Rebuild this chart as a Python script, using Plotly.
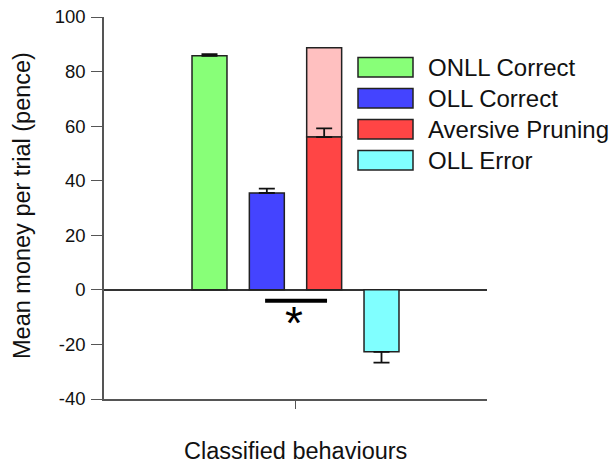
import plotly.graph_objects as go

categories = ["ONLL Correct", "OLL Correct", "Aversive Pruning", "OLL Error"]
values = [85.8, 35.5, 56.0, -22.7]
err_plus = [0.6, 1.6, 3.2, 0.0]
err_minus = [0.0, 0.0, 0.0, 4.0]
colors = ["#88FF78", "#4444FF", "#FF4545", "#80FFFF"]
pink_top = 88.7
positions = [1, 2, 3, 4]
yticks = [-40, -20, 0, 20, 40, 60, 80, 100]
yticklabels = ["-40", "-20", "0", "20", "40", "60", "80", "100"]

W, H = 615, 468
L, R, T, B = 104, 487, 17, 399

fig = go.Figure()

# pink extension for aversive pruning
fig.add_trace(go.Bar(x=[positions[2]], y=[pink_top - values[2]], base=[values[2]],
                     width=0.61, marker=dict(color="#FFC0C0", line=dict(color="#222", width=1.5)),
                     showlegend=False, hoverinfo="skip"))

for i, c in enumerate(categories):
    fig.add_trace(go.Bar(
        x=[positions[i]], y=[values[i]], width=0.61,
        marker=dict(color=colors[i], line=dict(color="#222", width=1.5)),
        error_y=dict(type="data", symmetric=False, array=[err_plus[i]], arrayminus=[err_minus[i]],
                     color="#111", thickness=1.8, width=8),
        name=c, showlegend=False))

fig.update_layout(
    width=W, height=H,
    margin=dict(l=L, r=W - R, t=T, b=H - B, pad=0, autoexpand=False),
    paper_bgcolor="white", plot_bgcolor="white",
    barmode="overlay", showlegend=False,
    font=dict(family="Liberation Sans, Arial", color="black"),
    xaxis=dict(range=[-0.84, 5.84], showgrid=False, zeroline=False, automargin=False,
               showline=True, linecolor="#555", linewidth=1.5,
               tickmode="array", tickvals=[2.5], ticktext=[""], ticks="outside",
               ticklen=8, tickwidth=1.2, tickcolor="#555"),
    yaxis=dict(range=[-40, 100], showgrid=False, zeroline=True, zerolinecolor="#333",
               zerolinewidth=1.8, showline=True, linecolor="#555", linewidth=1.5,
               automargin=False,
               tickmode="array", tickvals=yticks, ticktext=yticklabels, ticks="outside", ticklen=11,
               tickwidth=1.2, tickcolor="#555", tickfont=dict(size=18.5, color="#111"),
               ticklabelstandoff=2),
)

def px(x):
    return (x - L) / (R - L)

def py(y):
    return (B - y) / (B - T)

# axis titles
fig.add_annotation(text="Mean money per trial (pence)", xref="paper", yref="paper",
                   x=px(22), y=py(206), textangle=-90, showarrow=False,
                   font=dict(size=23.5, color="#111"), xanchor="center", yanchor="middle")
fig.add_annotation(text="Classified behaviours", xref="paper", yref="paper",
                   x=px(295), y=py(451), showarrow=False,
                   font=dict(size=23.5, color="#111"), xanchor="center", yanchor="middle")

# significance marker
fig.add_shape(type="line", x0=1.97, x1=3.05, y0=-4.0, y1=-4.0, xref="x", yref="y",
              line=dict(color="black", width=4))
fig.add_annotation(text="*", x=2.48, y=-12.0, xref="x", yref="y", showarrow=False,
                   font=dict(size=46, color="black"), xanchor="center", yanchor="middle")

# legend
for i, c in enumerate(categories):
    top = 57.5 + i * 31.0
    fig.add_shape(type="rect", xref="paper", yref="paper",
                  x0=px(358), x1=px(413), y0=py(top), y1=py(top + 19.5),
                  fillcolor=colors[i], line=dict(color="#222", width=1.5))
    fig.add_annotation(text=c, xref="paper", yref="paper", x=px(426), y=py(top + 10),
                       showarrow=False, xanchor="left", yanchor="middle",
                       font=dict(size=24, color="#111"))

fig.write_html("out.html")
